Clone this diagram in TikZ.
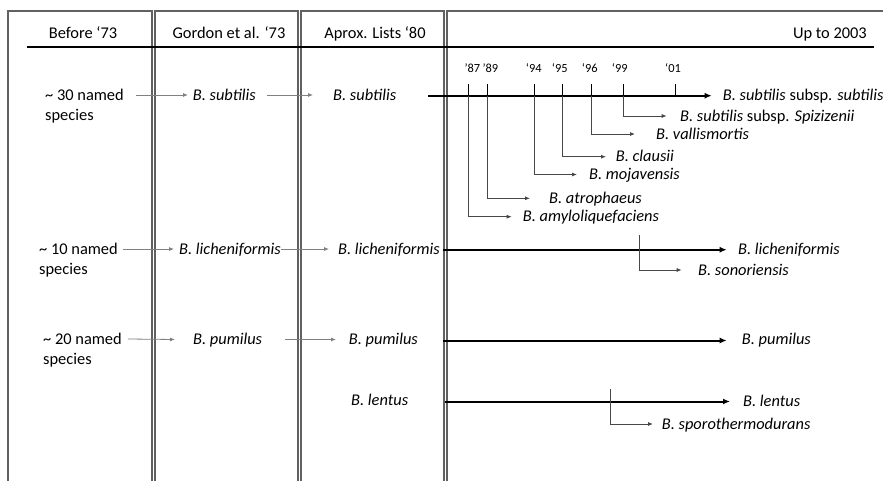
\documentclass[tikz,border=0pt]{standalone}
\usepackage{fontspec}
\setmainfont{Carlito}
\usetikzlibrary{arrows.meta}
\begin{document}
\begin{tikzpicture}[x=1pt,y=-1pt,
  lbl/.style={inner sep=0pt, anchor=west, text height=10.5pt, text depth=0pt, font=\fontsize{16.4}{20}\selectfont},
  sp/.style={lbl, font=\fontsize{16.4}{20}\selectfont\itshape},
  yr/.style={inner sep=0pt, anchor=base west, font=\fontsize{12.4}{14}\selectfont},
  hdr/.style={inner sep=0pt, anchor=base, font=\fontsize{16.4}{20}\selectfont},
  frame/.style={draw=black!62, line width=1.1pt},
  thinarr/.style={draw=black!50, line width=0.8pt, -{Latex[length=5pt,width=4pt]}},
  brarr/.style={draw=black!72, line width=0.8pt, -{Latex[length=5pt,width=4pt]}},
  tickline/.style={draw=black, line width=0.9pt},
  mainarr/.style={draw=black, line width=2pt, -{Latex[length=7pt,width=6pt]}},
]
\clip (0,0) rectangle (883,481);
\fill[white] (0,0) rectangle (883,481);
% panels
\draw[frame] (8,11) rectangle (152,500);
\draw[frame] (155,11) rectangle (298,500);
\draw[frame] (301,11) rectangle (444,500);
\draw[frame] (447,11) rectangle (910,500);
\draw[black, line width=1.2pt] (27,47) -- (874,47);
% headers
\node[hdr] (h1) at (83,39) {Before ‘73};
\node[hdr] (h2) at (229,39) {Gordon et al. ‘73};
\node[hdr] (h3) at (375,39) {Aprox. Lists ‘80};
\node[hdr, anchor=base east] (h4) at (867,39) {Up to 2003};
% years
\node[yr] (y87) at (464.3,73) {’87};
\node[yr] (y89) at (482.3,73) {’89};
\node[yr] (y94) at (525.7,73) {‘94};
\node[yr] (y95) at (551.7,73) {‘95};
\node[yr] (y96) at (581.7,73) {‘96};
\node[yr] (y99) at (611.7,73) {‘99};
\node[yr] (y01) at (665,73) {‘01};
% row 1
\node[lbl] (l1a) at (45,95) {\textasciitilde{} 30 named};
\node[lbl] (l1b) at (45,115) {species};
\node[sp] (g1) at (192.7,95) {B. subtilis};
\node[sp] (a1) at (333,95) {B. subtilis};
\node[lbl] (u1) at (722.7,95.5) {\textit{B. subtilis} subsp. \textit{subtilis}};
\draw[thinarr] ([xshift=12]l1a.east) -- ([xshift=-4.7]g1.west);
\draw[thinarr] ([xshift=11]g1.east) -- ([xshift=-20]a1.west);
\coordinate (m1s) at (428,95.7);
\coordinate (m1e) at (711.7,95.7);
\draw[mainarr] (m1s) -- (m1e);
\node[lbl] (s99) at (680,116) {\textit{B. subtilis} subsp. \textit{Spizizenii}};
\node[sp] (s96) at (656,134) {B. vallismortis};
\node[sp] (s95) at (615.7,156.7) {B. clausii};
\node[sp] (s94) at (589,174.5) {B. mojavensis};
\node[sp] (s89) at (549,198.3) {B. atrophaeus};
\node[sp] (s87) at (522.7,216.7) {B. amyloliquefaciens};
\coordinate (t87) at (468.8,84);
\coordinate (t89) at (487.5,84);
\coordinate (t94) at (534.5,84);
\coordinate (t95) at (562.7,84);
\coordinate (t96) at (591.8,84);
\coordinate (t99) at (623.3,84);
\coordinate (t01) at (675.7,84);
\foreach \t in {t87,t89,t94,t95,t96,t99,t01}
  \draw[tickline] (\t) -- (\t |- m1s);
\draw[brarr] (t99 |- m1s) |- ([xshift=-13.3]s99.west);
\draw[brarr] (t96 |- m1s) |- ([xshift=-21]s96.west);
\draw[brarr] (t95 |- m1s) |- ([xshift=-9.7]s95.west);
\draw[brarr] (t94 |- m1s) |- ([xshift=-12]s94.west);
\draw[brarr] (t89 |- m1s) |- ([xshift=-19]s89.west);
\draw[brarr] (t87 |- m1s) |- ([xshift=-11]s87.west);
% row 2
\node[lbl] (l2a) at (39,249) {\textasciitilde{} 10 named};
\node[lbl] (l2b) at (39,269) {species};
\node[sp] (g2) at (179,249) {B. licheniformis};
\node[sp] (a2) at (338,249) {B. licheniformis};
\node[sp] (u2) at (738,249.7) {B. licheniformis};
\node[sp] (u2b) at (698,270) {B. sonoriensis};
\draw[thinarr] ([xshift=5]l2a.east) -- ([xshift=-5]g2.west);
\draw[thinarr] (g2.east) -- ([xshift=-9]a2.west);
\coordinate (m2s) at (443,249.7);
\coordinate (m2e) at (726.7,249.7);
\draw[mainarr] (m2s) -- (m2e);
\coordinate (t2) at (639.3,235);
\draw[brarr] (t2) |- ([xshift=-16.3]u2b.west);
% row 3
\node[lbl] (l3a) at (43,339) {\textasciitilde{} 20 named};
\node[lbl] (l3b) at (43,359) {species};
\node[sp] (g3) at (193,339.5) {B. pumilus};
\node[sp] (a3) at (348.7,339.5) {B. pumilus};
\node[sp] (u3) at (741.7,339.5) {B. pumilus};
\draw[thinarr] ([xshift=6]l3a.east) -- ([xshift=-18]g3.west);
\draw[thinarr] ([xshift=23]g3.east) -- ([xshift=-12.7]a3.west);
\coordinate (m3s) at (443,340.5);
\coordinate (m3e) at (726.7,340.5);
\draw[mainarr] (m3s) -- (m3e);
% row 4
\node[sp] (a4) at (351,400.5) {B. lentus};
\node[sp] (u4) at (743,401) {B. lentus};
\node[sp] (u4b) at (661.7,424) {B. sporothermodurans};
\coordinate (m4s) at (445,401.5);
\coordinate (m4e) at (730,401.5);
\draw[mainarr] (m4s) -- (m4e);
\coordinate (t4) at (610.7,389);
\draw[brarr] (t4) |- ([xshift=-8.7]u4b.west);
\end{tikzpicture}
\end{document}
